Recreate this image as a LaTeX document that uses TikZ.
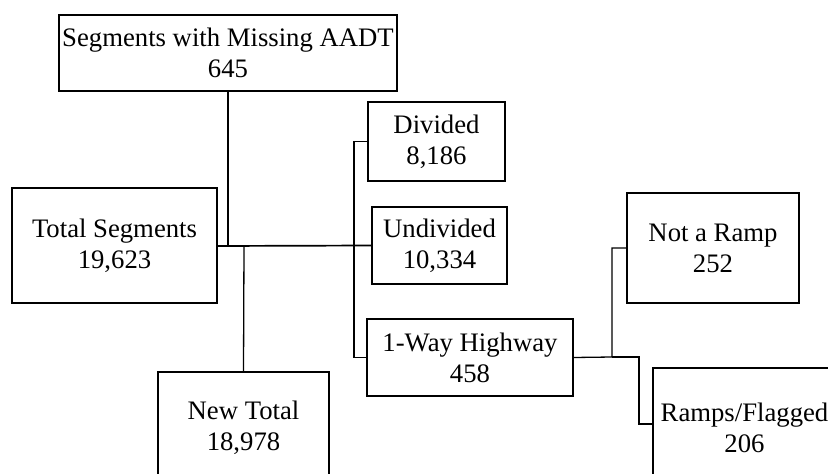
\documentclass[tikz,border=0pt]{standalone}
\usepackage{fontspec}
\setmainfont{Liberation Serif}
\begin{document}
\begin{tikzpicture}[x=1pt,y=-1pt,
  box/.style={draw, line width=1.3pt, rectangle, align=center, inner sep=0pt,
    font=\fontsize{26.7}{31}\selectfont},
  conn/.style={line width=1.3pt},
  mainconn/.style={line width=1.7pt}]
\useasboundingbox (0,0) rectangle (828,474);
\clip (0,0) rectangle (828,474);
\fill[white] (0,0) rectangle (828,474);
\node[box, minimum width=338pt, minimum height=76pt] (miss) at (228,53) {Segments with Missing AADT\\645};
\node[box, minimum width=205pt, minimum height=115pt] (total) at (114.5,245.5) {Total Segments\\19,623};
\node[box, minimum width=137pt, minimum height=79pt] (div) at (436.5,141.5) {Divided\\8,186};
\node[box, minimum width=135pt, minimum height=77pt] (undiv) at (439.5,245.5) {Undivided\\10,334};
\node[box, minimum width=206pt, minimum height=77pt] (oneway) at (470,357.5) {1-Way Highway\\458};
\node[box, minimum width=172pt, minimum height=110pt] (notramp) at (713,248) {Not a Ramp\\252};
\node[box, minimum width=171pt, minimum height=112pt] (newtot) at (243.5,428) {New Total\\18,978};
\node[box, minimum width=183pt, minimum height=119pt] (ramps) at (744.5,427.5) {Ramps/Flagged\\206};
\coordinate (j1) at (228,246);
\coordinate (j2) at (244,246);
\coordinate (jv) at (354,246);
\coordinate (k1) at (612,357);
\coordinate (k2) at (639,357);
\coordinate (k3) at (639,424);
\draw[mainconn] (total.east |- j1) -- (undiv.west);
\draw[conn] (miss.south) -- (j1);
\draw[conn] (j2) -- (newtot.north);
\draw[conn] (div.west) -| (jv) |- (oneway.west);
\draw[conn] (oneway.east) -- (k1) |- (notramp.west);
\draw[conn] (k1) -- (k2) -- (k3) -- (k3 -| ramps.west);
\end{tikzpicture}
\end{document}
